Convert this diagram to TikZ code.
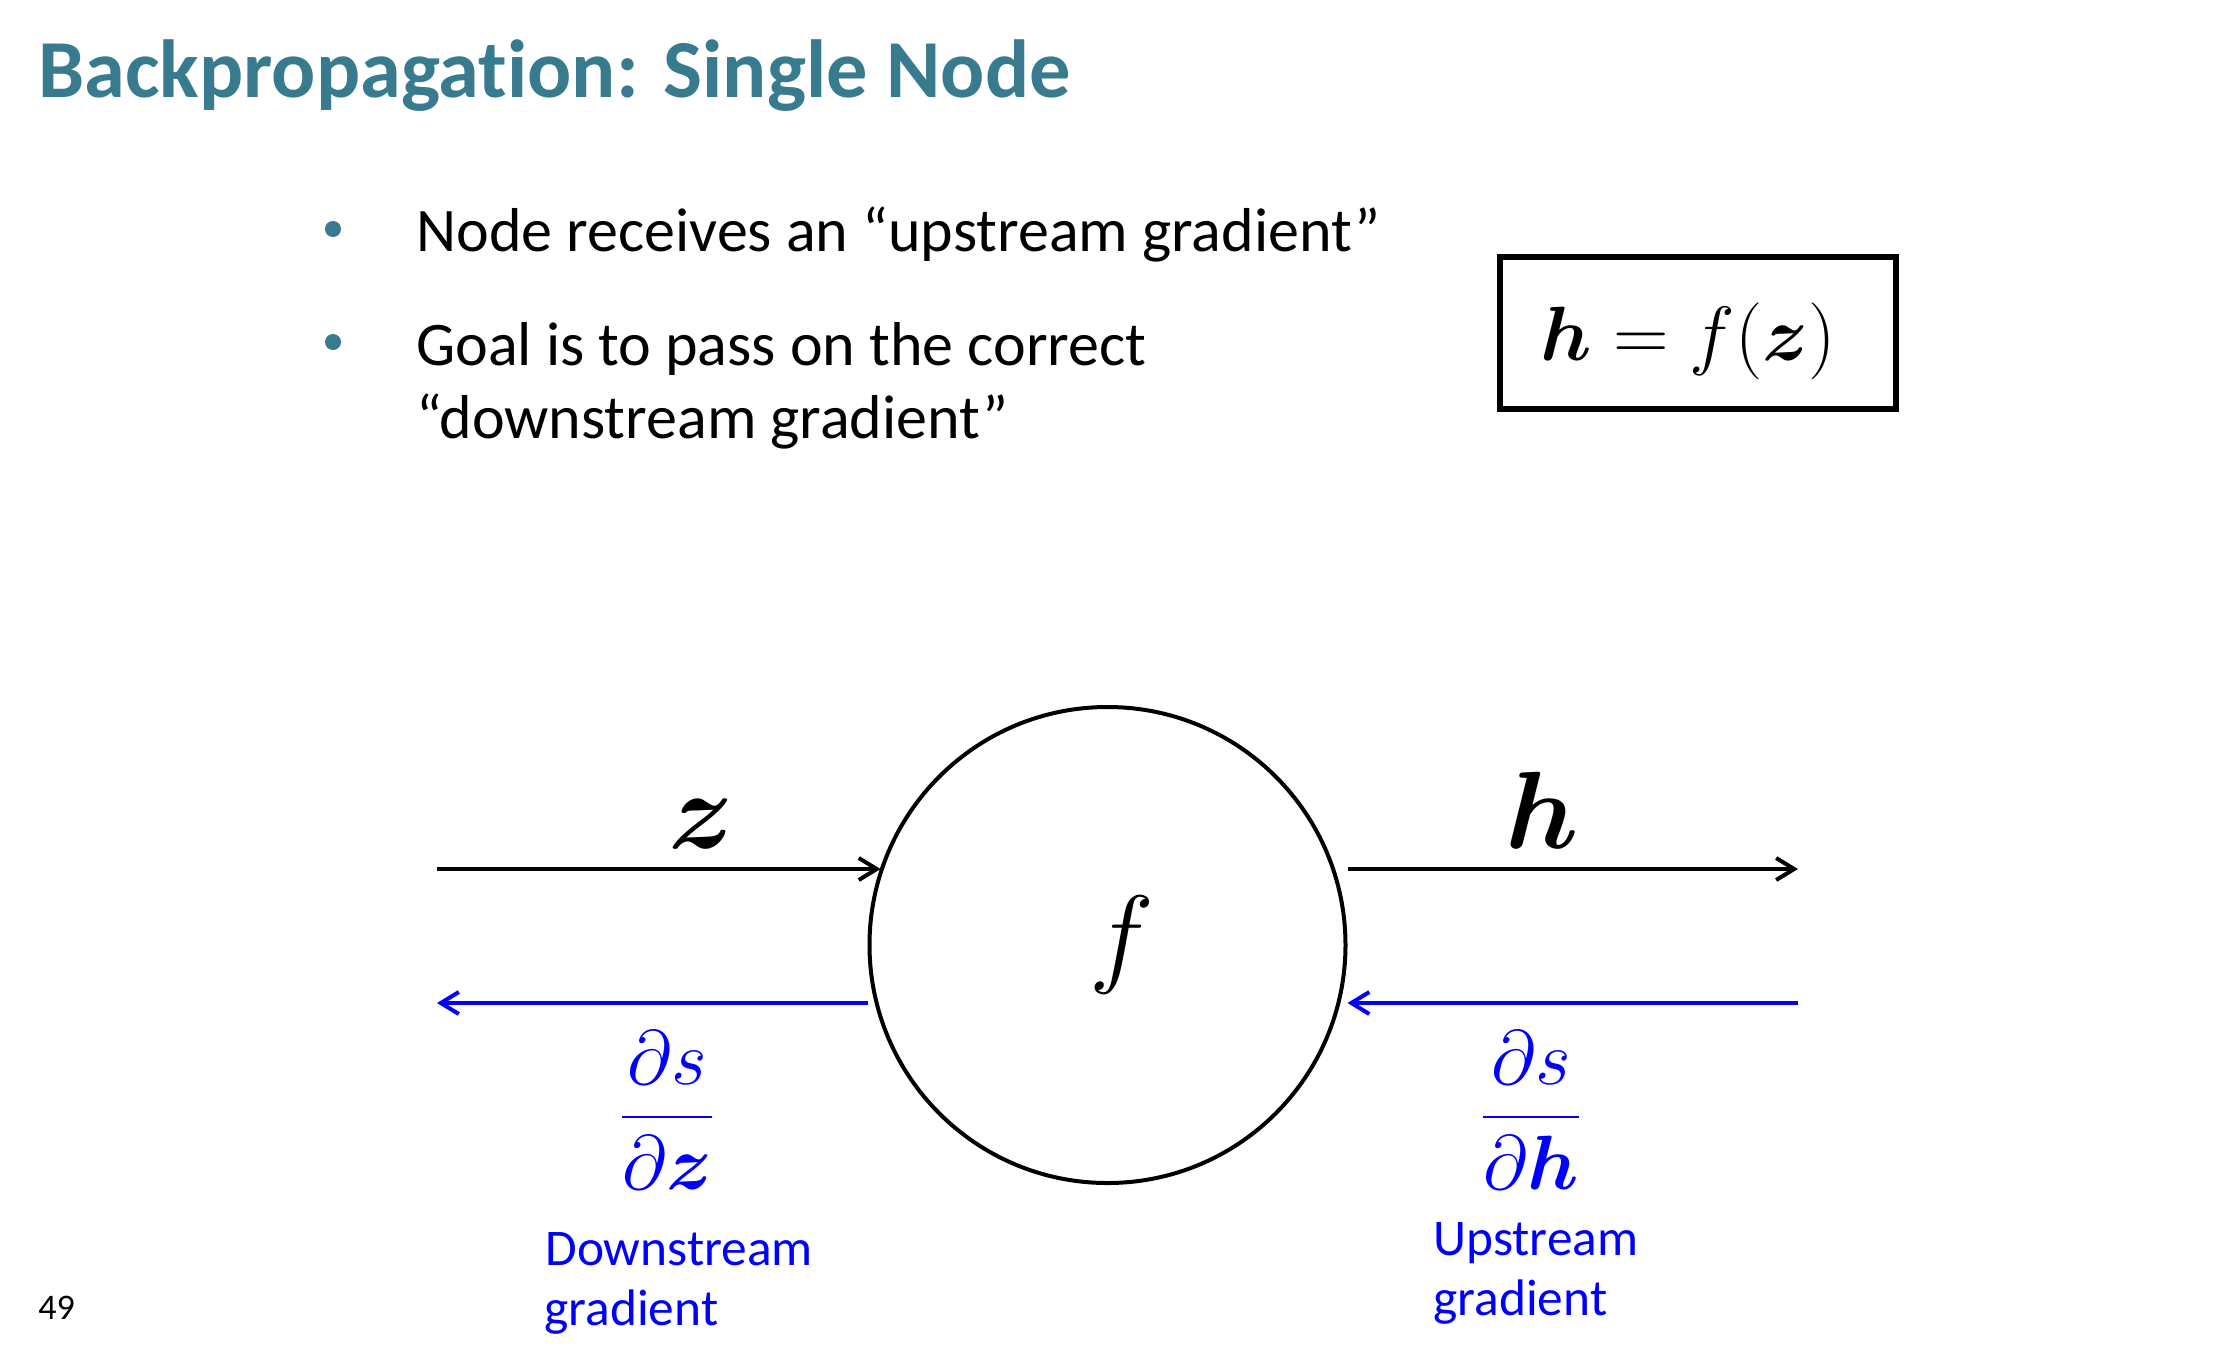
\RequirePackage{fix-cm}
\documentclass[tikz,border=0pt]{standalone}
\usepackage{amsmath,bm}
\usepackage[no-math]{fontspec}
\setmainfont{Carlito}[Ligatures=NoCommon]
\usetikzlibrary{arrows.meta}
\definecolor{slideteal}{RGB}{56,122,142}
\definecolor{gradblue}{RGB}{0,0,255}
\begin{document}
\begin{tikzpicture}[x=0.5pt,y=-0.5pt,
  slidetitle/.style={anchor=base west, inner sep=0, text=slideteal, font=\fontsize{41.2}{48}\selectfont\bfseries},
  bullettext/.style={anchor=base west, inner sep=0, font=\fontsize{31}{37}\selectfont},
  bulletdot/.style={circle, fill=slideteal, inner sep=0, minimum size=8pt},
  gradlabel/.style={anchor=base west, inner sep=0, text=gradblue, font=\fontsize{25.7}{30}\selectfont},
  mathlabel/.style={inner sep=0, font=\fontsize{55}{66}\selectfont},
  fraclabel/.style={inner sep=0, text=gradblue, font=\fontsize{38.5}{46}\selectfont},
  fwd/.style={line width=2pt, -{Straight Barb[length=9pt,width=11pt]}},
  bwd/.style={fwd, draw=gradblue},
  pagenum/.style={anchor=base west, inner sep=0, font=\fontsize{18}{22}\selectfont}]
\useasboundingbox (0,0) rectangle (2218,1346);
\node[slidetitle] (ttl) at (38,97) {Backpropagation: Single Node};
\node[bulletdot] (b1) at (333,229) {};
\node[bullettext] (t1) at (416,251) {Node receives an “upstream gradient”};
\node[bulletdot] (b2) at (333,342) {};
\node[bullettext] (t2a) at (416,365) {Goal is to pass on the correct};
\node[bullettext] (t2b) at (416,438) {“downstream gradient”};
\node[draw, line width=3.25pt, minimum width=198pt, minimum height=76pt, inner sep=0,
      text height=27pt, text depth=0pt, font=\fontsize{38.5}{46}\selectfont] (eqbox) at (1698,333)
      {$\bm{h} = f(\bm{z})$\hspace*{10pt}};
\node[circle, draw, line width=2pt, minimum size=238pt, mathlabel] (fnode) at (1107.5,945) {\hspace*{14pt}$f$};
\coordinate (zin) at (437,869);
\coordinate (hout) at (1798,869);
\coordinate (dzout) at (437,1003);
\coordinate (dhin) at (1798,1003);
\draw[fwd] (zin) -- (zin -| fnode.161);
\draw[fwd] (hout -| fnode.east) -- (hout);
\draw[bwd] (dzout -| fnode.west) -- (dzout);
\draw[bwd] (dhin) -- (dhin -| fnode.east);
\node[mathlabel, anchor=base] (zlab) at (701,848) {$\bm{z}$};
\node[mathlabel, anchor=base] (hlab) at (1542,848) {$\bm{h}$};
\node[fraclabel] (dsdz) at (667,1110) {$\dfrac{\partial s}{\partial \bm{z}}$};
\node[fraclabel] (dsdh) at (1531,1110) {$\dfrac{\partial s}{\partial \bm{h}}$};
\node[gradlabel] (down1) at (545,1265) {Downstream};
\node[gradlabel] (down2) at (544,1325) {gradient};
\node[gradlabel] (up1) at (1433,1255) {Upstream};
\node[gradlabel] (up2) at (1433,1315) {gradient};
\node[pagenum] (pg) at (38,1319) {49};
\end{tikzpicture}
\end{document}
